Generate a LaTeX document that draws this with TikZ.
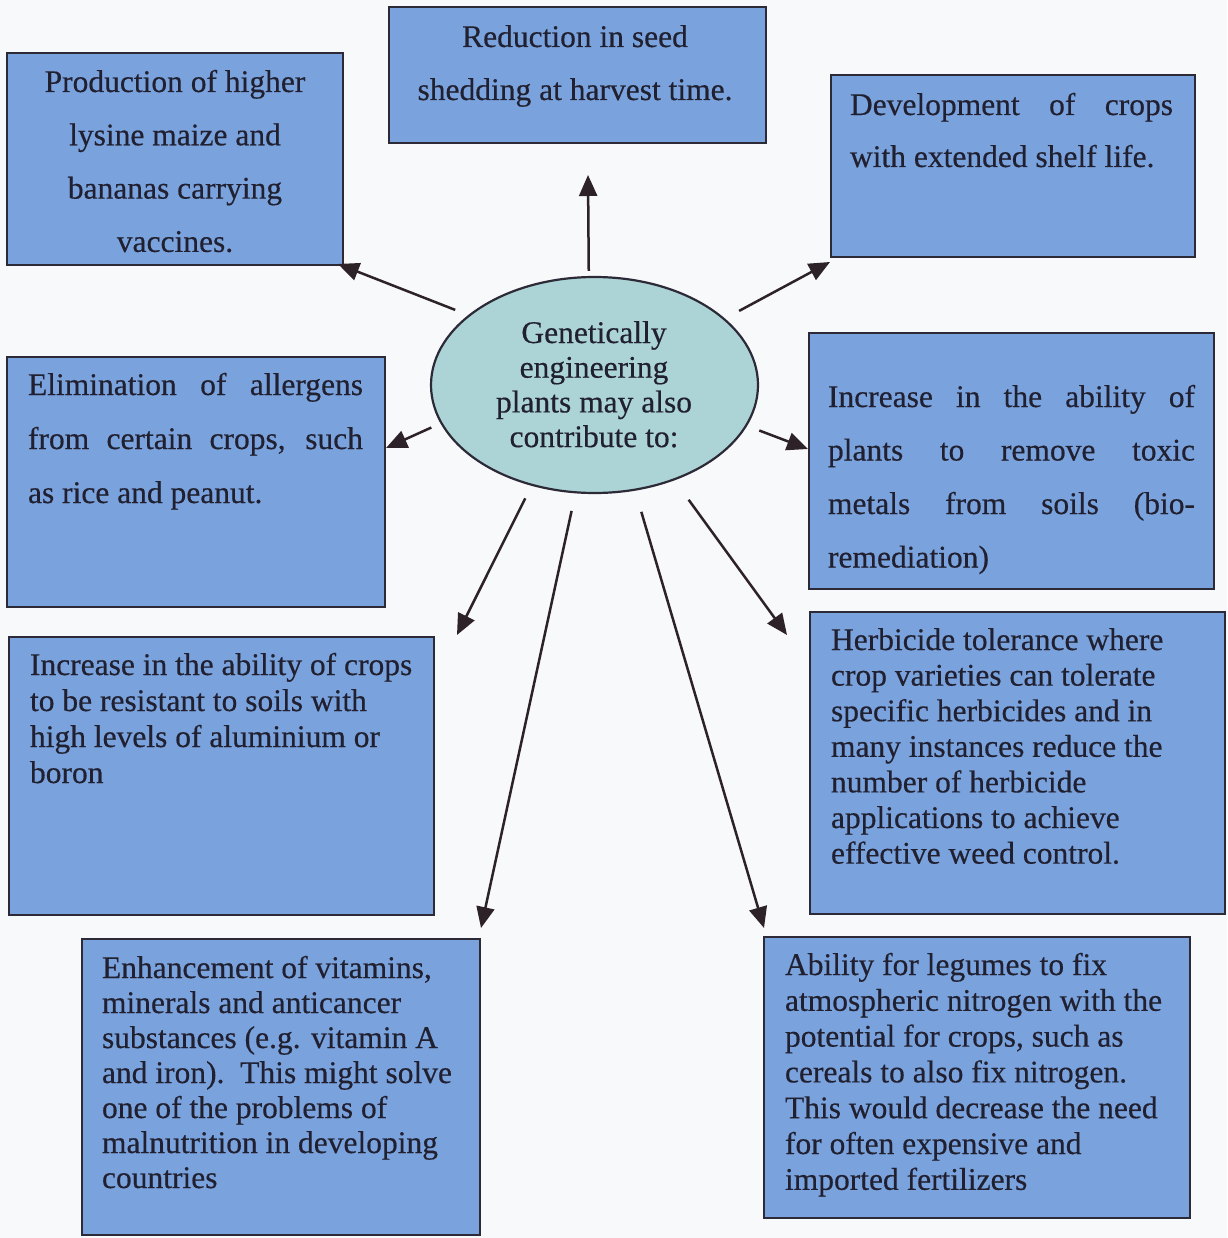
\documentclass[tikz,border=0pt]{standalone}
\usepackage{fontspec}
\setmainfont{Liberation Serif}[UprightFeatures={FakeBold=0.4}]
\usetikzlibrary{arrows.meta,shapes.geometric,calc}
\definecolor{boxblue}{RGB}{122,162,221}
\definecolor{elfill}{RGB}{172,212,214}
\definecolor{edgec}{RGB}{45,42,55}
\definecolor{txtc}{RGB}{32,32,48}
\definecolor{arrc}{RGB}{45,34,40}
\definecolor{bgc}{RGB}{248,249,251}
\newcommand{\jl}[2]{\makebox[#1][s]{#2}}
\newcommand{\fs}{\rule{0pt}{25pt}}
\begin{document}
\begin{tikzpicture}[x=1pt,y=-1pt,
  box/.style={draw=edgec,fill=boxblue,line width=2.2pt,rectangle,inner sep=0pt,outer sep=0pt,anchor=north west},
  lab/.style={text=txtc,inner sep=0pt,outer sep=0pt},
  con/.style={draw=arrc,line width=2.5pt,-{Triangle[length=21pt,width=18pt]}}]
\useasboundingbox (0,0) rectangle (1227,1238);
\fill[bgc] (0,0) rectangle (1227,1238);

% boxes
\node[box,minimum width=336pt,minimum height=212pt] (b1) at (7,53) {};
\node[box,minimum width=377pt,minimum height=136pt] (b2) at (389,7) {};
\node[box,minimum width=364pt,minimum height=182pt] (b3) at (831,75) {};
\node[box,minimum width=378pt,minimum height=250pt] (b4) at (7,357) {};
\node[box,minimum width=405pt,minimum height=256pt] (b5) at (809,333) {};
\node[box,minimum width=425pt,minimum height=278pt] (b6) at (9,637) {};
\node[box,minimum width=415pt,minimum height=302pt] (b7) at (810,612) {};
\node[box,minimum width=398pt,minimum height=296pt] (b8) at (82,939) {};
\node[box,minimum width=426pt,minimum height=281pt] (b9) at (764,937) {};

\node[ellipse,draw=edgec,fill=elfill,line width=2.2pt,minimum width=327pt,minimum height=216pt,inner sep=0pt] (ell) at (594.5,385) {};

% texts
\node[lab,anchor=north,align=center,font=\fontsize{31.5}{53.3}\selectfont] (l1) at (175,67)
  {\fs Production of higher\\lysine maize and\\bananas carrying\\vaccines.};
\node[lab,anchor=north,align=center,font=\fontsize{31.5}{53}\selectfont] (l2) at (575,22)
  {\fs Reduction in seed\\shedding at harvest time.};
\node[lab,anchor=north west,align=left,font=\fontsize{31.5}{52}\selectfont] (l3) at (850,90)
  {\fs\jl{323pt}{Development of crops}\\with extended shelf life.};
\node[lab,anchor=north west,align=left,font=\fontsize{31.5}{54}\selectfont] (l4) at (28,370)
  {\fs\jl{335pt}{Elimination of allergens}\\\jl{335pt}{from certain crops, such}\\as rice and peanut.};
\node[lab,anchor=north west,align=left,font=\fontsize{31.5}{53.5}\selectfont] (l5) at (828,382)
  {\fs\jl{367pt}{Increase in the ability of}\\\jl{367pt}{plants to remove toxic}\\\jl{367pt}{metals from soils (bio-}\\remediation)};
\node[lab,anchor=north west,align=left,font=\fontsize{31.5}{36}\selectfont] (l6) at (30,650)
  {\fs Increase in the ability of crops\\to be resistant to soils with\\high levels of aluminium or\\boron};
\node[lab,anchor=north west,align=left,font=\fontsize{31.5}{35.6}\selectfont] (l7) at (831,625)
  {\fs Herbicide tolerance where\\crop varieties can tolerate\\specific herbicides and in\\many instances reduce the\\number of herbicide\\applications to achieve\\effective weed control.};
\node[lab,anchor=north west,align=left,font=\fontsize{31.5}{35}\selectfont] (l8) at (102,953)
  {\fs Enhancement of vitamins,\\minerals and anticancer\\substances (e.g. vitamin A\\and iron).\ \ This might solve\\one of the problems of\\malnutrition in developing\\countries};
\node[lab,anchor=north west,align=left,font=\fontsize{31.5}{35.8}\selectfont] (l9) at (785,950)
  {\fs Ability for legumes to fix\\atmospheric nitrogen with the\\potential for crops, such as\\cereals to also fix nitrogen.\\This would decrease the need\\for often expensive and\\imported fertilizers};
\node[lab,anchor=north,align=center,font=\fontsize{31.5}{34.7}\selectfont] (le) at (594,318)
  {\fs Genetically\\engineering\\plants may also\\contribute to:};

% arrow tips
\coordinate (t1) at (338,264);
\coordinate (t2) at (588,175);
\coordinate (t3) at (830,262);
\coordinate (t4) at (386,448);
\coordinate (t5) at (808,449);
\coordinate (t6) at (457,635);
\coordinate (t7) at (787,635);
\coordinate (t8) at (481,928);
\coordinate (t9) at (764,928);

\draw[con,shorten <=5pt] (ell.93.3) -- (t2);
\draw[con,shorten <=14pt] (ell.151.7) -- (t1);
\draw[con,shorten <=16pt] (ell.27.8) -- (t3);
\draw[con,shorten <=10pt] (ell.194.5) -- (t4);
\draw[con,shorten <=13pt] (ell.345.8) -- (t5);
\draw[con,shorten <=14pt] (ell.238.5) -- (t6);
\draw[con,shorten <=18pt] (ell.260.7) -- (t8);
\draw[con,shorten <=22pt] (ell.291.6) -- (t9);
\draw[con,shorten <=24pt] (ell.310.75) -- (t7);
\end{tikzpicture}
\end{document}
